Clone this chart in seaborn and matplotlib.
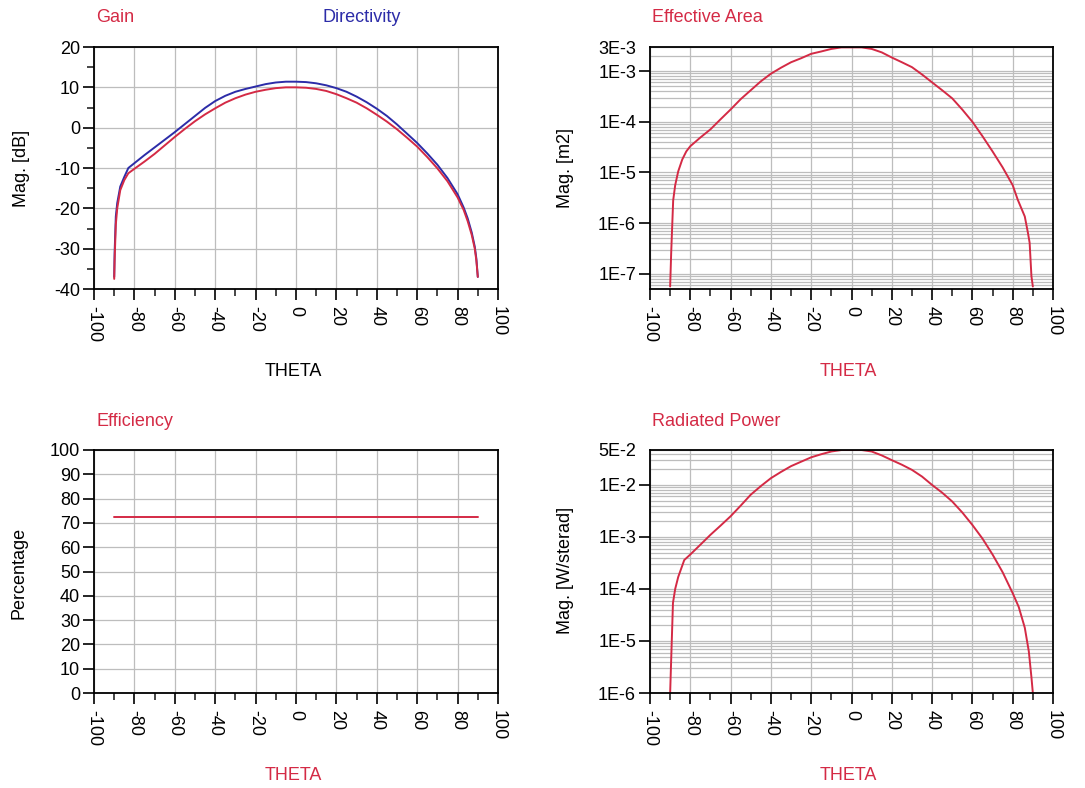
import numpy as np
import pandas as pd
import seaborn as sns
import matplotlib
matplotlib.use("Agg")
import matplotlib.pyplot as plt
from matplotlib.ticker import FixedLocator, NullFormatter, LogLocator

# ---- data ----
theta_db = [-90, -89.8, -89.2, -88.5, -87, -85, -83, -80, -75, -70, -65, -60, -55,
            -50, -45, -40, -35, -30, -25, -20, -15, -10, -5, 0, 5, 10, 15, 20, 25,
            30, 35, 40, 45, 50, 55, 60, 65, 70, 75, 80, 83, 85, 87, 88.5, 89.3, 90]
directivity = [-37, -31, -22, -18.7, -14.6, -12.2, -10, -8.8, -6.8, -4.9, -3.0, -1.1, 0.9,
               2.9, 4.9, 6.6, 7.9, 8.9, 9.6, 10.2, 10.8, 11.2, 11.4, 11.4, 11.3, 11.0, 10.5,
               9.8, 8.9, 7.7, 6.3, 4.7, 2.9, 0.8, -1.5, -3.8, -6.4, -9.2, -12.5, -16.5,
               -19.8, -22.5, -26, -29.5, -32.5, -37]
gain = [-37.5, -33, -24, -20, -15.5, -13, -11.3, -10.2, -8.4, -6.5, -4.4, -2.3, -0.3,
        1.6, 3.3, 4.8, 6.2, 7.3, 8.2, 8.9, 9.4, 9.8, 10.0, 10.0, 9.9, 9.6, 9.1, 8.3,
        7.3, 6.2, 4.8, 3.2, 1.5, -0.4, -2.5, -4.7, -7.3, -10.1, -13.3, -17.3, -20.4,
        -23.2, -26.6, -30, -33, -37]

theta_area = [-90, -89.5, -88.5, -87.5, -86, -84, -82, -80, -75, -70, -65, -60, -55,
              -50, -45, -40, -35, -30, -25, -20, -15, -10, -5, 0, 5, 10, 15, 20, 25,
              30, 35, 40, 45, 50, 55, 60, 65, 70, 75, 80, 82.5, 86, 87.6, 88.4, 89.3, 90]
eff_area = [5.6e-8, 2.5e-7, 2.8e-6, 5.6e-6, 1.05e-5, 1.8e-5, 2.6e-5, 3.3e-5, 4.9e-5,
            7.1e-5, 1.12e-4, 1.75e-4, 2.8e-4, 4.2e-4, 6.3e-4, 8.9e-4, 1.17e-3, 1.5e-3,
            1.8e-3, 2.2e-3, 2.45e-3, 2.75e-3, 2.95e-3, 2.95e-3, 2.95e-3, 2.75e-3,
            2.35e-3, 1.86e-3, 1.5e-3, 1.2e-3, 8.6e-4, 6.0e-4, 4.2e-4, 2.9e-4, 1.74e-4,
            1.0e-4, 5.2e-5, 2.6e-5, 1.26e-5, 5.6e-6, 2.9e-6, 1.35e-6, 6.3e-7, 4.1e-7,
            8.9e-8, 5.6e-8]

theta_eff = [-90, -45, 0, 45, 90]
efficiency = [72.6, 72.6, 72.6, 72.6, 72.6]

theta_pow = [-90, -89.6, -88.6, -87.5, -86, -83, -80, -75, -70, -65, -60, -55, -50,
             -45, -40, -35, -30, -25, -20, -15, -10, -5, 0, 5, 10, 15, 20, 25, 30, 35,
             40, 45, 50, 55, 60, 65, 70, 75, 80, 83, 86, 88, 89.3, 90]
rad_power = [1.0e-6, 3.2e-6, 5.4e-5, 1.0e-4, 1.7e-4, 3.6e-4, 4.6e-4, 7.1e-4, 1.1e-3,
             1.65e-3, 2.5e-3, 4.0e-3, 6.5e-3, 9.5e-3, 1.35e-2, 1.78e-2, 2.3e-2, 2.8e-2,
             3.4e-2, 3.9e-2, 4.4e-2, 4.7e-2, 4.7e-2, 4.7e-2, 4.4e-2, 3.7e-2, 3.0e-2,
             2.45e-2, 1.95e-2, 1.45e-2, 1.0e-2, 7.1e-3, 4.8e-3, 2.95e-3, 1.7e-3, 9.3e-4,
             4.6e-4, 2.1e-4, 8.3e-5, 4.5e-5, 1.8e-5, 6.3e-6, 2.0e-6, 1.0e-6]

x_ticks = [-100, -80, -60, -40, -20, 0, 20, 40, 60, 80, 100]

RED = "#d42a45"
BLUE = "#2c2ca8"
GRID = "#bdbdbd"

sns.set_style("white")
plt.rcParams['font.family'] = ['Liberation Sans', 'DejaVu Sans']
plt.rcParams['axes.unicode_minus'] = False

W, H = 1085, 788
fig = plt.figure(figsize=(W / 100, H / 100), dpi=100)


def px_axes(x0, y0, x1, y1):
    return fig.add_axes([x0 / W, 1 - y1 / H, (x1 - x0) / W, (y1 - y0) / H])


def style_x(ax):
    ax.set_xlim(-100, 100)
    ax.set_xticks(x_ticks)
    ax.set_xticklabels([str(t) for t in x_ticks], rotation=270, va="top", ha="center")
    ax.xaxis.set_minor_locator(FixedLocator(np.arange(-90, 100, 20)))
    ax.grid(True, axis="x", which="major", color=GRID, lw=0.9)
    ax.tick_params(axis="both", which="major", direction="out", length=8, width=1.2,
                   labelsize=13, pad=2, bottom=True, left=True, colors="black")
    ax.tick_params(axis="x", which="minor", direction="out", length=5, width=1.2, bottom=True)
    ax.tick_params(axis="x", which="major", pad=4)
    for s in ax.spines.values():
        s.set_color("black")
        s.set_linewidth(1.3)
    ax.set_xlabel("")
    ax.set_ylabel("")


def fig_text(x, y, s, color="black", rot=0, ha="center"):
    fig.text(x / W, 1 - y / H, s, color=color, rotation=rot, ha=ha, va="center", fontsize=13)


# ---- Gain / Directivity ----
ax1 = px_axes(94, 47, 498, 289)
df1 = pd.DataFrame({"theta": theta_db, "Directivity": directivity, "Gain": gain})
sns.lineplot(data=df1, x="theta", y="Directivity", color=BLUE, lw=1.4, ax=ax1)
sns.lineplot(data=df1, x="theta", y="Gain", color=RED, lw=1.4, ax=ax1)
ax1.set_ylim(-40, 20)
ax1.set_yticks(np.arange(-40, 21, 10))
ax1.yaxis.set_minor_locator(FixedLocator(np.arange(-35, 20, 10)))
ax1.tick_params(axis="y", which="minor", direction="out", length=5, width=1.2, left=True)
ax1.grid(True, axis="y", which="major", color=GRID, lw=0.9)
style_x(ax1)

# ---- Effective Area ----
ax2 = px_axes(650, 47, 1053, 289)
df2 = pd.DataFrame({"theta": theta_area, "area": eff_area})
sns.lineplot(data=df2, x="theta", y="area", color=RED, lw=1.4, ax=ax2)
ax2.set_yscale("log")
ax2.set_ylim(5.0e-8, 3e-3)
ax2.set_yticks([1e-7, 1e-6, 1e-5, 1e-4, 1e-3, 3e-3])
ax2.set_yticklabels(["1E-7", "1E-6", "1E-5", "1E-4", "1E-3", "3E-3"])
ax2.yaxis.set_minor_locator(LogLocator(base=10, subs=np.arange(2, 10)))
ax2.yaxis.set_minor_formatter(NullFormatter())
ax2.tick_params(axis="y", which="minor", length=0)
ax2.grid(True, axis="y", which="both", color=GRID, lw=0.9)
style_x(ax2)
ax2.yaxis.get_major_ticks()[-1].tick1line.set_visible(False)

# ---- Efficiency ----
ax3 = px_axes(94, 450, 498, 693)
df3 = pd.DataFrame({"theta": theta_eff, "eff": efficiency})
sns.lineplot(data=df3, x="theta", y="eff", color=RED, lw=1.4, ax=ax3)
ax3.set_ylim(0, 100)
ax3.set_yticks(np.arange(0, 101, 10))
ax3.grid(True, axis="y", which="major", color=GRID, lw=0.9)
style_x(ax3)

# ---- Radiated Power ----
ax4 = px_axes(650, 450, 1053, 693)
df4 = pd.DataFrame({"theta": theta_pow, "power": rad_power})
sns.lineplot(data=df4, x="theta", y="power", color=RED, lw=1.4, ax=ax4)
ax4.set_yscale("log")
ax4.set_ylim(1e-6, 4.7e-2)
ax4.set_yticks([1e-6, 1e-5, 1e-4, 1e-3, 1e-2, 4.7e-2])
ax4.set_yticklabels(["1E-6", "1E-5", "1E-4", "1E-3", "1E-2", "5E-2"])
ax4.yaxis.set_minor_locator(LogLocator(base=10, subs=np.arange(2, 10)))
ax4.yaxis.set_minor_formatter(NullFormatter())
ax4.tick_params(axis="y", which="minor", length=0)
ax4.grid(True, axis="y", which="both", color=GRID, lw=0.9)
style_x(ax4)
ax4.yaxis.get_major_ticks()[-1].tick1line.set_visible(False)

# ---- titles and axis labels ----
fig_text(96, 17, "Gain", RED, ha="left")
fig_text(322, 17, "Directivity", BLUE, ha="left")
fig_text(652, 17, "Effective Area", RED, ha="left")
fig_text(96, 422, "Efficiency", RED, ha="left")
fig_text(652, 422, "Radiated Power", RED, ha="left")

fig_text(293, 372, "THETA", "black")
fig_text(848, 372, "THETA", RED)
fig_text(293, 775, "THETA", RED)
fig_text(848, 775, "THETA", RED)

fig_text(22, 168, "Mag. [dB]", rot=90)
fig_text(565, 168, "Mag. [m2]", rot=90)
fig_text(19, 573, "Percentage", rot=90)
fig_text(565, 570, "Mag. [W/sterad]", rot=90)

fig.savefig("out.png", dpi=100, facecolor="white")
